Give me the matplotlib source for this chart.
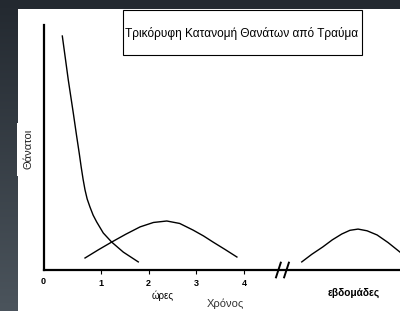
import numpy as np
import matplotlib
matplotlib.use("Agg")
import matplotlib.pyplot as plt
from matplotlib.patches import Rectangle
from matplotlib.colors import LinearSegmentedColormap

plt.rcParams['font.family'] = ['Liberation Sans', 'DejaVu Sans']

# ---- data (x in hour-units of the axis, y = relative deaths 0..100) ----
title = "Τρικόρυφη Κατανομή Θανάτων από Τραύμα"
ylabel = "Θάνατοι"
xlabel = "Χρόνος"
hours_label = "ώρες"
weeks_label = "εβδομάδες"
tick_pos = [1, 2, 3, 4]
tick_labels = ["1", "2", "3", "4"]
origin_label = "0"

immediate_x = [0.189, 0.252, 0.314, 0.419, 0.486, 0.545, 0.585, 0.625, 0.665, 0.71, 0.769, 0.835, 0.910, 1.048, 1.224, 1.468, 1.782]
immediate_y = [95.5, 86.5, 77.6, 64.1, 55.1, 47.5, 42.0, 37.0, 32.7, 29.0, 25.7, 22.4, 19.6, 15.1, 11.4, 7.3, 3.3]

early_x = [0.665, 0.95, 1.224, 1.52, 1.82, 2.10, 2.38, 2.65, 2.93, 3.15, 3.35, 3.60, 3.85]
early_y = [4.9, 8.3, 11.4, 14.6, 17.6, 19.4, 20.0, 19.0, 16.3, 13.9, 11.4, 8.4, 5.3]

late_x = [5.21, 5.42, 5.65, 5.85, 6.05, 6.22, 6.39, 6.58, 6.79, 7.02, 7.27]
late_y = [3.3, 6.4, 9.4, 12.3, 14.7, 16.2, 16.7, 16.0, 14.3, 11.2, 7.3]

break_at = 4.82
xmin, xmax = -0.195, 7.27
ymin, ymax = 0, 100

W, H = 400, 311
fig = plt.figure(figsize=(W / 100, H / 100), dpi=100)

# background gradient
bg = fig.add_axes([0, 0, 1, 1], zorder=-10)
bg.set_axis_off()
cmap = LinearSegmentedColormap.from_list("bg", ["#232930", "#4b545c"])
grad = np.linspace(0, 1, 256).reshape(-1, 1)
bg.imshow(grad, aspect="auto", cmap=cmap, extent=[0, 1, 0, 1], origin="upper")
bg.set_xlim(0, 1)
bg.set_ylim(0, 1)

def px(x0, y0, w, h):
    return (x0 / W, 1 - (y0 + h) / H, w / W, h / H)

# white panel
x0, y0, w, h = px(18, 9, 382, 302)
fig.patches.append(Rectangle((x0, y0), w, h, transform=fig.transFigure, fc="white", ec="none", zorder=-5))
x0, y0, w, h = px(17, 123, 27, 53)
fig.patches.append(Rectangle((x0, y0), w, h, transform=fig.transFigure, fc="white", ec="none", zorder=-5))

ax = fig.add_axes([44 / W, 1 - 270 / H, (W - 44) / W, (270 - 25) / H], zorder=5)
ax.patch.set_alpha(0)
ax.set_xlim(xmin, xmax)
ax.set_ylim(ymin, ymax)
for s in ["top", "right"]:
    ax.spines[s].set_visible(False)
ax.spines["left"].set_linewidth(1.6)
ax.spines["bottom"].set_linewidth(1.6)
ax.set_yticks([])
ax.set_xticks(tick_pos)
ax.set_xticklabels(tick_labels, fontsize=6.5, fontweight="bold")
ax.tick_params(axis="x", length=3, width=0.8, pad=3.5)

ax.plot(immediate_x, immediate_y, color="black", lw=1.0, clip_on=False, solid_joinstyle="round")
ax.plot(early_x, early_y, color="black", lw=1.0, clip_on=False, solid_joinstyle="round")
ax.plot(late_x, late_y, color="black", lw=1.0, solid_joinstyle="round")

# axis break marks
for dx in (-0.1, 0.07):
    ax.plot([break_at + dx - 0.05, break_at + dx + 0.05], [-3, 3], color="black", lw=1.4, clip_on=False)

ax.text(xmin - 0.02, -4.5, origin_label, ha="center", va="center", fontsize=6.5, fontweight="bold")
ax.text(2.30, -10.6, hours_label, ha="center", va="center", fontsize=7)
ax.text(6.30, -9.5, weeks_label, ha="center", va="center", fontsize=7.3, fontweight="bold")

# title box
x0, y0, w, h = px(123, 10, 239, 45)
fig.patches.append(Rectangle((x0, y0), w, h, transform=fig.transFigure, fc="white", ec="black", lw=0.8, zorder=8))
fig.text(242 / W, 1 - 33 / H, title, ha="center", va="center", fontsize=8.6, color="black", zorder=9)

fig.text(225 / W, 1 - 304 / H, xlabel, ha="center", va="center", fontsize=8, color="#333333", zorder=9)
fig.text(28 / W, 1 - 149 / H, ylabel, ha="center", va="center", rotation=90, fontsize=8, color="#222222", zorder=9)

fig.savefig("out.png", dpi=100)
